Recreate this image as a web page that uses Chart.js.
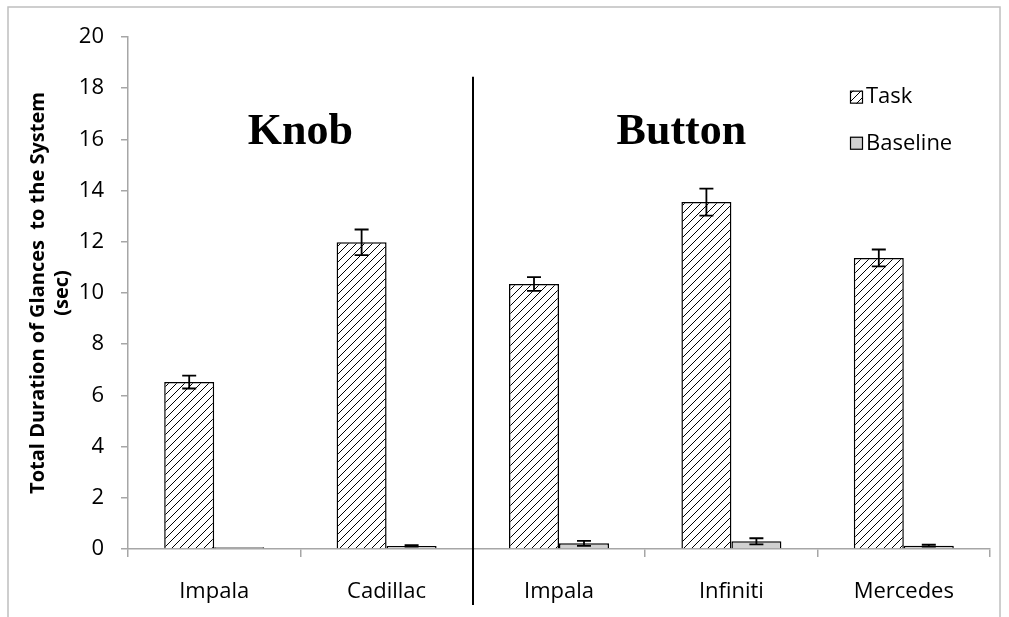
<!DOCTYPE html>
<html><head><meta charset="utf-8">
<script src="https://cdn.jsdelivr.net/npm/chart.js@4"></script>
<style>html,body{margin:0;padding:0;background:#fff;} #wrap{width:1009px;height:617px;position:relative;}</style>
</head><body><div id="wrap"><canvas id="c" width="1009" height="617"></canvas></div>
<script>
const categories = ['Impala', 'Cadillac', 'Impala', 'Infiniti', 'Mercedes'];
const seriesNames = ['Task', 'Baseline'];
const taskValues = [6.52, 11.98, 10.35, 13.55, 11.37];
const taskErrors = [0.25, 0.50, 0.27, 0.53, 0.33];
const baselineValues = [0.07, 0.12, 0.22, 0.30, 0.13];
const baselineErrors = [0.00, 0.03, 0.10, 0.12, 0.04];
const groupNames = ['Knob', 'Button'];
const yAxisTitle = ['Total Duration of Glances  to the System', '(sec)'];
const yMin = 0, yMax = 20, yStep = 2;

const canvas = document.getElementById('c');
const ctx = canvas.getContext('2d');

function makeHatch() {
  const t = document.createElement('canvas');
  t.width = 8; t.height = 8;
  const g = t.getContext('2d');
  g.fillStyle = '#fff'; g.fillRect(0, 0, 8, 8);
  g.fillStyle = '#000';
  for (let i = 0; i < 8; i++) g.fillRect(i, 7 - i, 1, 1);
  return ctx.createPattern(t, 'repeat');
}
const hatch = makeHatch();
const baseGray = '#d0d0d0';
const axisGray = '#a6a6a6';

const overlay = {
  id: 'overlay',
  afterDatasetsDraw(chart) {
    const c = chart.ctx;
    const x = chart.scales.x, y = chart.scales.y;
    c.save();
    // error bars
    chart.data.datasets.forEach((ds, di) => {
      const meta = chart.getDatasetMeta(di);
      meta.data.forEach((bar, i) => {
        const e = ds.errors[i];
        if (!e) return;
        const v = ds.data[i];
        const yt = y.getPixelForValue(v + e);
        const yb = y.getPixelForValue(Math.max(0, v - e));
        c.strokeStyle = '#000'; c.lineWidth = 1.8;
        c.beginPath();
        c.moveTo(bar.x, yt); c.lineTo(bar.x, yb);
        c.moveTo(bar.x - 7, yt); c.lineTo(bar.x + 7, yt);
        c.moveTo(bar.x - 7, yb); c.lineTo(bar.x + 7, yb);
        c.stroke();
      });
    });
    // divider between groups
    const dx = Math.round((x.getPixelForValue(1) + x.getPixelForValue(2)) / 2);
    c.strokeStyle = '#000'; c.lineWidth = 2;
    c.beginPath();
    c.moveTo(dx, y.getPixelForValue(18.45));
    c.lineTo(dx, y.getPixelForValue(0) + 56);
    c.stroke();
    // group names
    c.fillStyle = '#000';
    c.font = 'bold 44px "Liberation Serif"';
    c.textAlign = 'center'; c.textBaseline = 'middle';
    c.fillText(groupNames[0], x.getPixelForValue(0.5), y.getPixelForValue(16.25));
    c.fillText(groupNames[1], x.getPixelForValue(2.71), y.getPixelForValue(16.25));
    // legend
    const lx = 850, box = 13;
    const rows = [y.getPixelForValue(17.65), y.getPixelForValue(15.85)];
    c.font = '22px "Open Sans"';
    c.textAlign = 'left';
    chart.data.datasets.forEach((ds, di) => {
      const cy = rows[di];
      c.fillStyle = ds.backgroundColor;
      c.fillRect(lx, cy - box / 2, box, box);
      c.strokeStyle = '#000'; c.lineWidth = 1.2;
      c.strokeRect(lx + 0.5, cy - box / 2 + 0.5, box - 1, box - 1);
      c.fillStyle = '#000';
      c.fillText(ds.label, lx + 16, cy);
    });
    // outer frame
    c.strokeStyle = '#bfbfbf'; c.lineWidth = 1.5;
    c.strokeRect(8, 7, 992, 700);
    c.restore();
  }
};

new Chart(ctx, {
  type: 'bar',
  data: {
    labels: categories,
    datasets: [
      { label: seriesNames[0], data: taskValues, errors: taskErrors, backgroundColor: hatch, borderColor: '#000', borderWidth: 1.5, categoryPercentage: 0.58, barPercentage: 1 },
      { label: seriesNames[1], data: baselineValues, errors: baselineErrors, backgroundColor: baseGray, borderColor: '#000', borderWidth: 1.5, categoryPercentage: 0.58, barPercentage: 1 }
    ]
  },
  options: {
    responsive: false, animation: false,
    layout: { padding: { left: 16, right: 19, top: 37, bottom: 0 } },
    plugins: { legend: { display: false }, tooltip: { enabled: false } },
    scales: {
      x: {
        grid: { offset: true, drawOnChartArea: false, color: axisGray, tickColor: axisGray, tickLength: 8, lineWidth: 1.5 },
        border: { color: axisGray, width: 1.5 },
        ticks: { font: { family: 'Open Sans', size: 22 }, color: '#000', padding: 22, maxRotation: 0, autoSkip: false },
        afterFit(s) { s.height = 68; }
      },
      y: {
        min: yMin, max: yMax,
        grid: { drawOnChartArea: false, color: axisGray, tickColor: axisGray, tickLength: 7, lineWidth: 1.5 },
        border: { color: axisGray, width: 1.5 },
        ticks: { stepSize: yStep, font: { family: 'Open Sans', size: 22 }, color: '#000', padding: 17 },
        title: { display: true, text: yAxisTitle, font: { family: 'Open Sans', size: 20, weight: 'bold' }, color: '#000', padding: { top: 10, bottom: 0 } },
        afterFit(s) { s.width = 112; }
      }
    }
  },
  plugins: [overlay]
});
</script></body></html>
